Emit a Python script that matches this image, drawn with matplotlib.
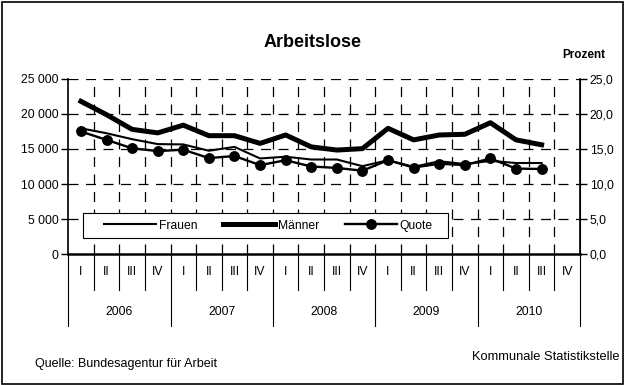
import matplotlib.pyplot as plt
from matplotlib.lines import Line2D
from matplotlib.patches import Rectangle

plt.rcParams['font.family'] = ['Liberation Sans Narrow', 'Liberation Sans', 'DejaVu Sans']

# Quartale 2006/I bis 2010/III
jahre = ['2006', '2007', '2008', '2009', '2010']
quartale = ['I', 'II', 'III', 'IV']
maenner = [21800, 19900, 17800, 17300, 18400, 16900, 16900, 15800, 17000, 15300,
           14850, 15050, 17950, 16300, 17000, 17100, 18750, 16300, 15600]
frauen = [17950, 17250, 16400, 15700, 15650, 14750, 15300, 13650, 13900, 13500,
          13500, 12550, 13400, 12450, 13250, 12850, 13300, 13000, 13000]
quote = [17.5, 16.3, 15.1, 14.7, 14.9, 13.7, 14.0, 12.7, 13.4, 12.5,
         12.3, 11.9, 13.4, 12.35, 12.9, 12.7, 13.65, 12.2, 12.15]

fig = plt.figure(figsize=(6.25, 3.85), dpi=100)
fig.patches.append(Rectangle((0.003, 0.003), 0.993, 0.993, transform=fig.transFigure,
                             fill=False, edgecolor='black', linewidth=1.2))
ax = fig.add_axes([0.109, 0.340, 0.819, 0.455])
ax2 = ax.twinx()

x = list(range(len(maenner)))
ax.plot(x, maenner, color='black', lw=3.6, zorder=3)
ax.plot(x, frauen, color='black', lw=1.5, zorder=3)
ax2.plot(x, quote, color='black', lw=1.7, marker='o', markersize=6.8, zorder=3)

ax.set_xlim(-0.5, 19.5)
ax.set_ylim(0, 25000)
ax2.set_ylim(0, 25)
ax.set_yticks(range(0, 25001, 5000))
ax.set_yticklabels(['0', '5 000', '10 000', '15 000', '20 000', '25 000'])
ax2.set_yticks(range(0, 26, 5))
ax2.set_yticklabels(['%d,0' % v for v in range(0, 26, 5)])
ax.set_xticks([])

for a in (ax, ax2):
    a.spines['top'].set_visible(False)
    a.tick_params(axis='y', labelsize=8.7, length=5, width=1, pad=2)
ax.spines['bottom'].set_linewidth(1.8)
ax.spines['left'].set_linewidth(1.2)
ax2.spines['right'].set_linewidth(1.2)
ax2.spines['left'].set_visible(False)
ax2.spines['bottom'].set_visible(False)

# gestrichelte Gitterlinien
for v in range(5000, 25001, 5000):
    ax.axhline(v, color='black', lw=0.9, ls=(0, (8, 6)), zorder=1)
for k in range(1, 20):
    ax.axvline(k - 0.5, color='black', lw=0.9, ls=(0, (8, 6)), zorder=1)

# Beschriftung der Quartale und Jahre unter der Achse
tr = ax.get_xaxis_transform()
for k in range(21):
    ybot = -0.41 if k % 4 == 0 else -0.205
    ax.plot([k - 0.5, k - 0.5], [0, ybot], color='black', lw=0.8, transform=tr, clip_on=False)
for i in range(20):
    ax.text(i, -0.103, quartale[i % 4], transform=tr, ha='center', va='center', fontsize=8.7)
for j, jahr in enumerate(jahre):
    ax.text(j * 4 + 1.5, -0.33, jahr, transform=tr, ha='center', va='center', fontsize=8.7)

# Legende: weisser Kasten mit Rahmen, Eintraege ohne eigenen Rahmen darueber
ax2.add_patch(Rectangle((0.0293, 0.0914), 0.713, 0.143, transform=ax2.transAxes,
                        facecolor='white', edgecolor='black', linewidth=0.8, zorder=4))
handles = [Line2D([], [], color='black', lw=1.5),
           Line2D([], [], color='black', lw=3.6),
           Line2D([], [], color='black', lw=1.7, marker='o', markersize=6.8)]
leg = ax2.legend(handles, ['Frauen', 'Männer', 'Quote'], ncol=3, loc='center left',
                 bbox_to_anchor=(0.048, 0.163), fontsize=8.7, frameon=False,
                 borderpad=0.45, handlelength=4.3, handletextpad=0.25, columnspacing=2.1)
leg.set_zorder(5)

fig.text(0.5, 0.89, 'Arbeitslose', ha='center', va='center', fontsize=13, fontweight='bold')
fig.text(0.968, 0.858, 'Prozent', ha='right', va='center', fontsize=8.5, fontweight='bold')
fig.text(0.056, 0.054, 'Quelle: Bundesagentur für Arbeit', ha='left', va='center', fontsize=9)
fig.text(0.992, 0.072, 'Kommunale Statistikstelle', ha='right', va='center', fontsize=9.3)

fig.savefig('out.png', dpi=100)
